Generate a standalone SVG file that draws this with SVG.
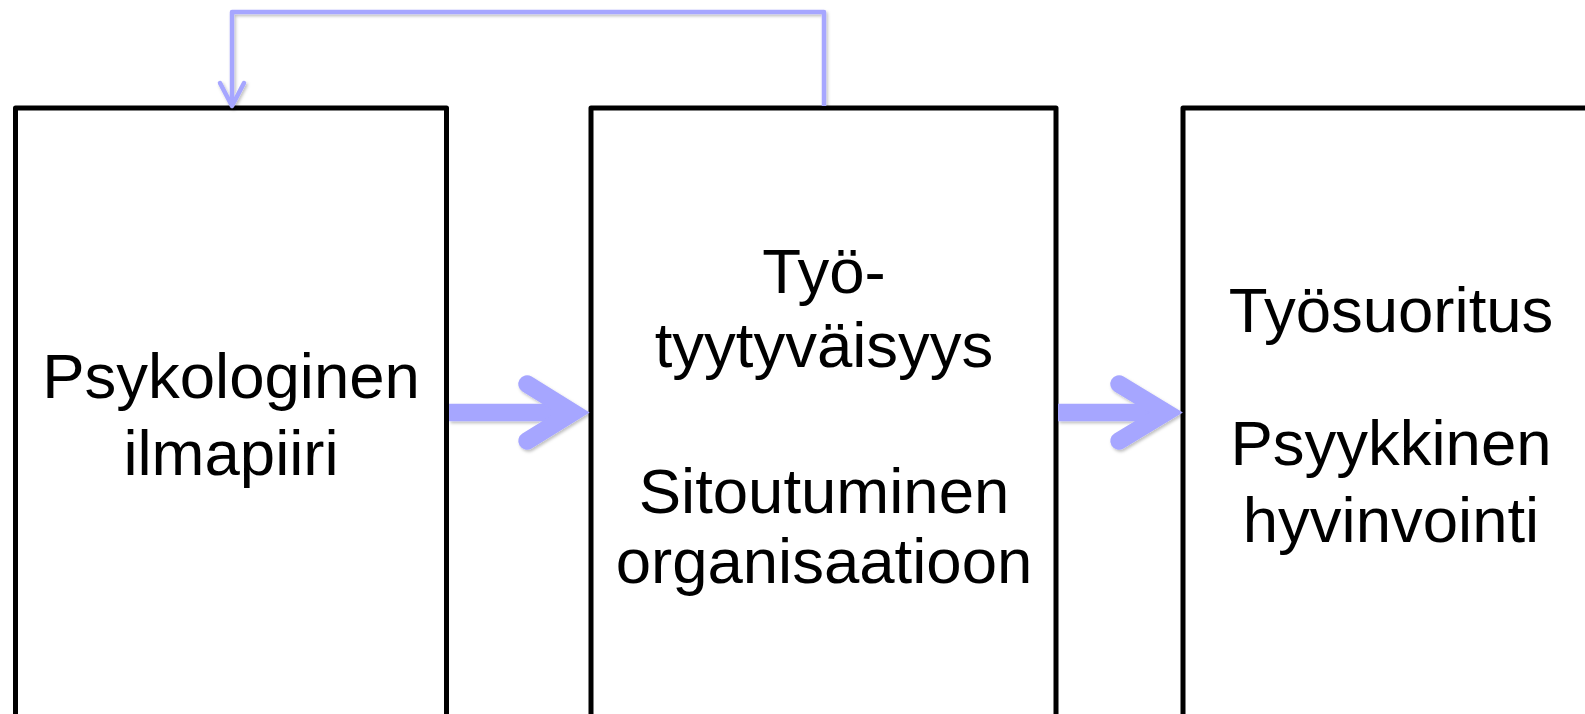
<svg xmlns="http://www.w3.org/2000/svg" width="1585" height="714" viewBox="0 0 1585 714">
<style>
.box{fill:#ffffff;stroke:#000000;stroke-width:5;stroke-linejoin:round}
.lbl{font-family:"Liberation Sans",Arial,sans-serif;font-size:63.5px;fill:#000000;text-anchor:middle}
.conn{fill:none;stroke:#a6a6ff;stroke-width:4.5;stroke-linejoin:round}
.blk{fill:none;stroke:#a6a6ff;stroke-width:17.5}
</style>
<defs>
<filter id="sh" x="-10%" y="-10%" width="130%" height="140%">
<feDropShadow dx="1.5" dy="2" stdDeviation="1.5" flood-color="#000000" flood-opacity="0.25"/>
</filter>
</defs>
<rect width="1585" height="714" fill="#ffffff"/>
<g id="node-psykologinen">
<rect class="box" x="15.5" y="108" width="431" height="620"/>
<text class="lbl" x="231" y="398">Psykologinen</text>
<text class="lbl" x="231" y="475">ilmapiiri</text>
</g>
<g id="node-tyytyvaisyys">
<rect class="box" x="591" y="108" width="465" height="620"/>
<text class="lbl" x="824" y="293">Työ-</text>
<text class="lbl" x="824" y="367">tyytyväisyys</text>
<text class="lbl" x="824" y="513">Sitoutuminen</text>
<text class="lbl" x="824" y="583">organisaatioon</text>
</g>
<g id="node-tyosuoritus">
<rect class="box" x="1183" y="108" width="420" height="620"/>
<text class="lbl" x="1391" y="332">Työsuoritus</text>
<text class="lbl" x="1391" y="465">Psyykkinen</text>
<text class="lbl" x="1391" y="542">hyvinvointi</text>
</g>
<g id="connectors" filter="url(#sh)">
<path class="conn" d="M824,106 V12 H232 V104"/>
<path class="conn" d="M220,83 L232,106 L244,83" stroke-linecap="round"/>
<line class="blk" x1="449" y1="412.5" x2="575" y2="412.5"/>
<polyline class="blk" points="527,384 573,412.5 527,441" stroke-linecap="round" stroke-linejoin="miter"/>
<line class="blk" x1="1058" y1="412.5" x2="1168" y2="412.5"/>
<polyline class="blk" points="1119,384 1166,412.5 1119,441" stroke-linecap="round" stroke-linejoin="miter"/>
</g>
</svg>
